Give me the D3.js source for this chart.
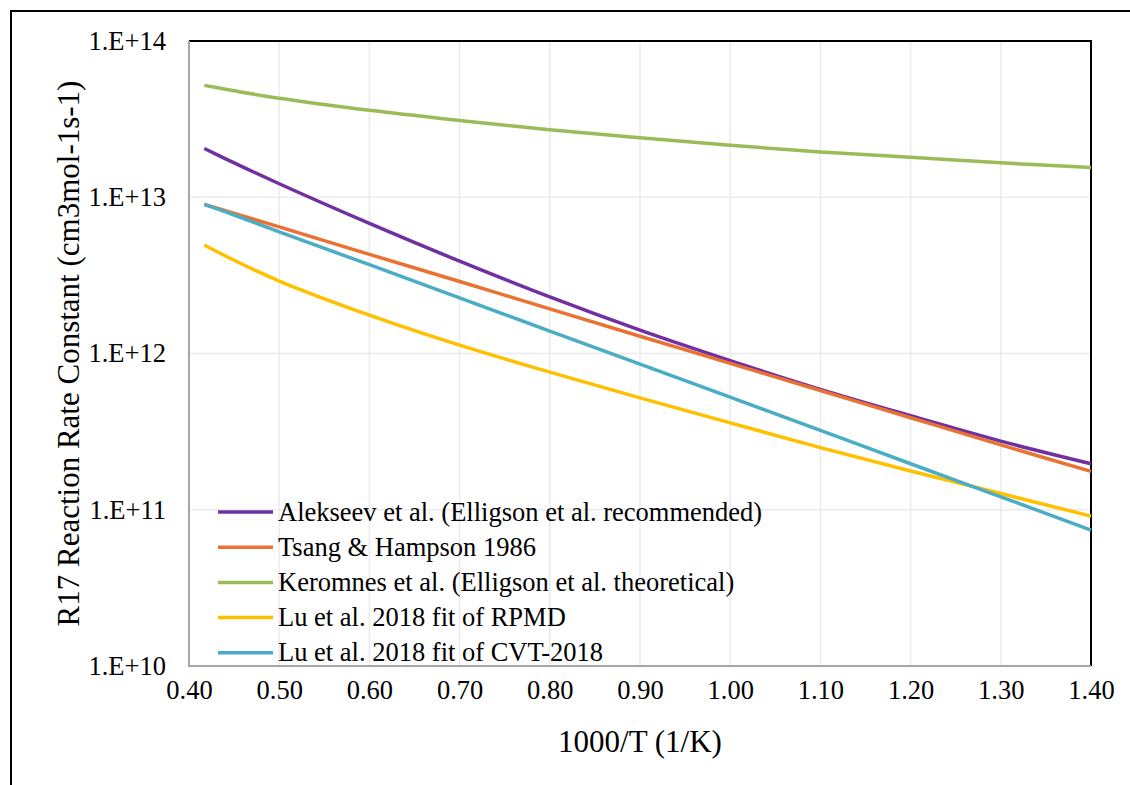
<!DOCTYPE html>
<html>
<head>
<meta charset="utf-8">
<script src="https://cdn.jsdelivr.net/npm/d3@7"></script>
<style>
  body { margin: 0; background: #fff; }
</style>
</head>
<body>
<svg id="chart" width="1130" height="785"></svg>
<script>
// x = 1000/T (1/K) (rate constants, cm3 mol-1 s-1)
const xs = [0.417, 0.45, 0.50, 0.60, 0.70, 0.80, 0.90, 1.00, 1.10, 1.20, 1.30, 1.40];

const alekseev = [2.05e13, 1.66e13, 1.22e13, 6.8e12, 3.9e12, 2.3e12, 1.41e12, 9.0e11, 5.9e11, 4.0e11, 2.75e11, 1.97e11];
const tsang    = [9.0e12, 7.89e12, 6.46e12, 4.31e12, 2.89e12, 1.93e12, 1.29e12, 8.65e11, 5.8e11, 3.88e11, 2.6e11, 1.76e11];
const keromnes = [5.2e13, 4.8e13, 4.3e13, 3.6e13, 3.1e13, 2.7e13, 2.4e13, 2.15e13, 1.95e13, 1.8e13, 1.66e13, 1.55e13];
const luRPMD   = [4.95e12, 3.95e12, 2.91e12, 1.76e12, 1.13e12, 7.6e11, 5.2e11, 3.6e11, 2.5e11, 1.77e11, 1.27e11, 9.1e10];
const luCVT    = [9.0e12, 7.7e12, 6.0e12, 3.7e12, 2.27e12, 1.39e12, 8.55e11, 5.25e11, 3.22e11, 1.97e11, 1.21e11, 7.4e10];

const seriesNames = [
  "Alekseev et al. (Elligson et al. recommended)",
  "Tsang & Hampson 1986",
  "Keromnes et al. (Elligson et al. theoretical)",
  "Lu et al. 2018 fit of RPMD",
  "Lu et al. 2018 fit of CVT-2018"
];
const seriesValues = [alekseev, tsang, keromnes, luRPMD, luCVT];
const colors = ["#7030A0", "#E97132", "#9BBB59", "#FFC000", "#4BACC6"];

const xTicks = [0.4, 0.5, 0.6, 0.7, 0.8, 0.9, 1.0, 1.1, 1.2, 1.3, 1.4];
const yTicks = [1e10, 1e11, 1e12, 1e13, 1e14];
const yTickLabels = ["1.E+10", "1.E+11", "1.E+12", "1.E+13", "1.E+14"];

const FONT = "Liberation Serif";

const svg = d3.select("#chart");

// outer frame (runs off the right and bottom edge)
svg.append("path")
    .attr("d", "M11,785 L11,11 L1130,11")
    .attr("fill", "none")
    .attr("stroke", "#000")
    .attr("stroke-width", 2);

const pLeft = 189, pRight = 1091, pTop = 41, pBottom = 666;

const x = d3.scaleLinear().domain([0.4, 1.4]).range([pLeft, pRight]);
const y = d3.scaleLog().domain([1e10, 1e14]).range([pBottom, pTop]);

// gridlines
svg.append("g")
    .selectAll("line")
    .data(xTicks.slice(1, -1))
    .enter()
    .append("line")
    .attr("x1", d => x(d)).attr("x2", d => x(d))
    .attr("y1", pTop).attr("y2", pBottom)
    .attr("stroke", "#ebebeb")
    .attr("stroke-width", 1.5);

svg.append("g")
    .selectAll("line")
    .data(yTicks.slice(1, -1))
    .enter()
    .append("line")
    .attr("x1", pLeft).attr("x2", pRight)
    .attr("y1", d => y(d)).attr("y2", d => y(d))
    .attr("stroke", "#ebebeb")
    .attr("stroke-width", 1.5);

// plot border: top/right black, left/bottom grey
svg.append("path")
    .attr("d", `M${pLeft},${pTop} L${pRight},${pTop} L${pRight},${pBottom}`)
    .attr("fill", "none").attr("stroke", "#000").attr("stroke-width", 2);
svg.append("path")
    .attr("d", `M${pLeft},${pTop} L${pLeft},${pBottom} L${pRight},${pBottom}`)
    .attr("fill", "none").attr("stroke", "#a6a6a6").attr("stroke-width", 2);

// axes (labels only)
const xAxis = d3.axisBottom(x).tickValues(xTicks).tickFormat(d3.format(".2f")).tickSize(0).tickPadding(14);
const gx = svg.append("g").attr("transform", `translate(0,${pBottom})`).call(xAxis);
gx.select(".domain").remove();
gx.selectAll("text")
    .style("font-family", FONT)
    .style("font-size", "26.5px")
    .style("fill", "#000");

const yAxis = d3.axisLeft(y).tickValues(yTicks).tickFormat((d, i) => yTickLabels[i]).tickSize(0).tickPadding(23);
const gy = svg.append("g").attr("transform", `translate(${pLeft},0)`).call(yAxis);
gy.select(".domain").remove();
gy.selectAll("text")
    .style("font-family", FONT)
    .style("font-size", "26.5px")
    .style("fill", "#000");

// axis titles
svg.append("text")
    .attr("x", (pLeft + pRight) / 2)
    .attr("y", 752)
    .attr("text-anchor", "middle")
    .style("font-family", FONT)
    .style("font-size", "31px")
    .text("1000/T (1/K)");

svg.append("text")
    .attr("transform", `translate(79,${(pTop + pBottom) / 2}) rotate(-90)`)
    .attr("text-anchor", "middle")
    .style("font-family", FONT)
    .style("font-size", "31px")
    .text("R17 Reaction Rate Constant (cm3mol-1s-1)");

// series lines
const line = d3.line()
    .x(d => x(d[0]))
    .y(d => y(d[1]))
    .curve(d3.curveCatmullRom.alpha(0.5));

seriesValues.forEach(function(vals, i) {
    svg.append("path")
        .datum(xs.map((xv, j) => [xv, vals[j]]))
        .attr("d", line)
        .attr("fill", "none")
        .attr("stroke", colors[i])
        .attr("stroke-width", 3.5);
});

// legend
const legend = svg.append("g")
    .selectAll("g")
    .data(seriesNames)
    .enter()
    .append("g")
    .attr("class", "legend")
    .attr("transform", (d, i) => `translate(0,${512 + i * 35.2})`);

legend.append("line")
    .attr("x1", 218).attr("x2", 273)
    .attr("y1", 0).attr("y2", 0)
    .attr("stroke", (d, i) => colors[i])
    .attr("stroke-width", 3.5);

legend.append("text")
    .attr("x", 278)
    .attr("y", 8.5)
    .style("font-family", FONT)
    .style("font-size", "26.5px")
    .text(d => d);
</script>
</body>
</html>
